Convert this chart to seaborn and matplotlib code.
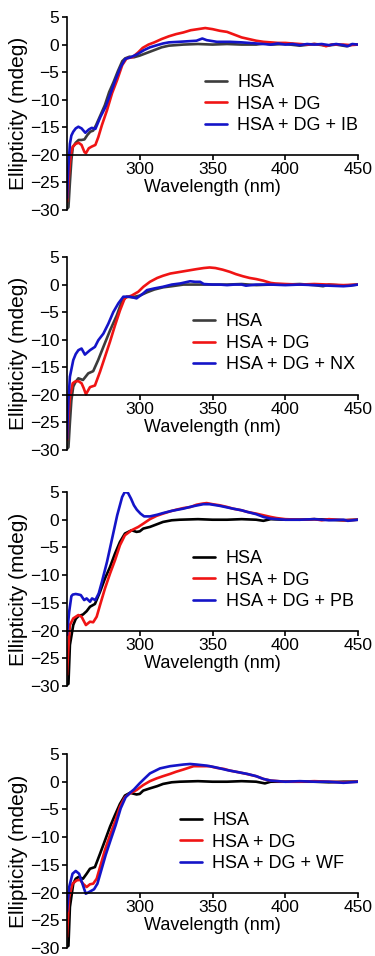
import matplotlib
matplotlib.use("Agg")
import matplotlib.pyplot as plt
import pandas as pd
import seaborn as sns

sns.set_style("ticks")
plt.rcParams['font.family'] = ['Liberation Sans', 'DejaVu Sans']
plt.rcParams['text.color'] = 'black'
plt.rcParams['axes.labelcolor'] = 'black'
plt.rcParams['xtick.color'] = 'black'
plt.rcParams['ytick.color'] = 'black'

# ---------------- Panel 1 (IB) ----------------
wl_hsa_1 = [250, 251, 252, 253, 254, 256, 258, 260, 262, 264, 266, 268, 270, 273, 276, 279, 282, 285, 288, 290, 293, 296, 300, 305, 310, 315, 320, 325, 330, 340, 350, 360, 370, 380, 386, 390, 400, 410, 420, 428, 435, 442, 446, 450]
hsa_1 = [-29.8, -29.5, -25, -21, -18.6, -17.8, -17.3, -17.3, -17.2, -16.4, -15.8, -15.6, -14.6, -12.8, -11.0, -8.6, -6.8, -4.8, -3.0, -2.5, -2.2, -2.3, -2.0, -1.5, -1.0, -0.5, -0.2, -0.1, 0.0, 0.1, 0.0, 0.1, 0.0, 0.0, 0.2, 0.0, 0.1, -0.2, 0.1, -0.2, 0.0, -0.3, 0.0, 0.0]
wl_dg_1 = [250, 251, 252, 253, 254, 256, 258, 260, 262, 263, 265, 267, 269.5, 271.5, 274, 277.5, 281, 284.5, 288, 291, 295, 299, 302, 306, 310, 315, 320, 325, 330, 335, 340, 345, 350, 355, 360, 365, 370, 375, 380, 385, 390, 395, 400, 405, 410, 415, 420, 425, 428, 432, 440, 445, 450]
dg_1 = [-28.5, -25, -21.5, -19.5, -18.5, -18.0, -17.8, -18.2, -19.5, -19.7, -18.8, -18.5, -18.2, -16.8, -14.6, -11.9, -8.8, -6.4, -3.7, -2.5, -2.3, -1.4, -0.6, 0.0, 0.4, 1.0, 1.5, 1.9, 2.2, 2.6, 2.8, 3.0, 2.8, 2.5, 2.3, 1.8, 1.3, 1.0, 0.7, 0.5, 0.4, 0.3, 0.3, 0.2, 0.1, 0.0, 0.1, 0.0, -0.3, 0.0, 0.0, -0.1, 0.0]
wl_x_1 = [250, 251, 252, 253, 254.3, 256, 257.8, 260, 262.6, 265, 267, 269.5, 273, 276.5, 280, 283.3, 286.8, 290, 293.7, 298, 303, 307, 312, 316, 320, 327, 333, 339, 343, 346, 353, 362, 370, 375, 385, 390, 395, 400, 405, 410, 415, 420, 425, 430, 435, 440, 443, 446, 450]
x_1 = [-27.8, -22, -18.0, -16.5, -15.8, -15.2, -14.9, -15.2, -16.0, -15.4, -15.1, -15.3, -13.1, -11.3, -8.8, -6.4, -4.1, -2.6, -2.3, -1.8, -1.0, -0.5, -0.1, 0.2, 0.4, 0.5, 0.6, 0.7, 1.1, 0.8, 0.5, 0.5, 0.4, 0.3, 0.1, 0.0, 0.2, 0.0, 0.1, -0.1, 0.1, 0.0, 0.1, -0.1, 0.1, -0.1, -0.3, 0.1, 0.0]

# ---------------- Panel 2 (NX) ----------------
wl_hsa_2 = [250, 251, 252, 253, 254.3, 256, 257.8, 261, 264.6, 268, 271.4, 275, 279.6, 284.2, 287.6, 291, 295, 300, 305, 310, 316, 322, 330, 340, 350, 360, 370, 380, 390, 400, 410, 420, 426, 430, 440, 450]
hsa_2 = [-29.8, -29.5, -25, -21, -18.5, -17.6, -17.0, -17.3, -16.1, -15.7, -13.7, -11.3, -8.3, -5.6, -3.1, -2.2, -2.3, -2.0, -1.4, -0.9, -0.5, -0.3, 0.0, 0.0, 0.0, 0.0, 0.1, -0.1, 0.0, 0.0, 0.1, -0.1, -0.3, 0.0, -0.2, 0.0]
wl_dg_2 = [250, 251, 252, 253.9, 255.5, 257.8, 260, 261.5, 263, 265.8, 269.2, 272.7, 276.1, 279.5, 283, 286.4, 289.8, 294.4, 299, 302.5, 307, 312, 316, 321, 330, 339, 344, 348, 352, 357, 362, 366, 371, 375.5, 380, 385, 390, 393, 400, 410, 420, 430, 440, 450]
dg_2 = [-28.2, -24, -20.5, -17.9, -17.6, -17.5, -17.9, -18.8, -19.9, -18.6, -18.3, -15.8, -13.1, -10.4, -7.4, -4.7, -2.4, -2.0, -1.3, -0.4, 0.5, 1.2, 1.6, 2.0, 2.4, 2.8, 3.0, 3.1, 3.0, 2.7, 2.3, 1.9, 1.5, 1.2, 1.0, 0.7, 0.3, 0.2, 0.1, 0.0, 0.1, 0.0, -0.1, 0.0]
wl_x_2 = [250, 251, 252, 254.3, 256, 257.8, 260, 262.3, 265.8, 269.2, 271.5, 275, 278.4, 281.8, 285.3, 288.7, 293.3, 297.8, 302.4, 305, 310, 316, 322, 327.8, 334.6, 338, 341.5, 344, 350, 355, 360, 365, 370, 373, 380, 390, 400, 410, 420, 430, 440, 445, 450]
x_2 = [-27.9, -21, -16.7, -13.7, -12.6, -11.9, -11.6, -12.7, -11.9, -11.3, -10.1, -8.9, -7.1, -5.0, -3.4, -2.2, -2.2, -2.5, -1.6, -1.0, -0.7, -0.4, 0.0, 0.2, 0.6, 0.5, 0.5, 0.1, 0.0, 0.0, -0.1, 0.0, 0.0, -0.2, 0.0, 0.0, -0.1, 0.0, -0.1, -0.2, -0.3, -0.2, 0.0]

# ---------------- Panel 3 (PB) ----------------
wl_hsa_3 = [250, 251, 252, 254.3, 256, 257.8, 261, 263.5, 265.8, 269.2, 272.7, 276.1, 279.6, 283, 286.4, 289.8, 294.4, 297.8, 300, 302.4, 307, 312, 316, 322, 327.5, 340, 350, 360, 370, 380, 385, 390, 400, 410, 420, 430, 440, 450]
hsa_3 = [-29.8, -29.6, -22.6, -19.0, -17.9, -17.4, -17.1, -16.5, -15.7, -15.2, -13.0, -10.6, -8.5, -6.1, -4.0, -2.5, -1.9, -2.2, -2.1, -1.6, -1.3, -0.8, -0.4, -0.1, 0.0, 0.1, 0.0, 0.0, 0.1, 0.0, -0.2, 0.1, 0.0, 0.0, 0.1, 0.0, -0.1, 0.0]
wl_dg_3 = [250, 251, 252, 254.3, 257.8, 260, 263, 265.8, 268, 270.4, 272.7, 276.1, 279.6, 283, 286.4, 289.8, 294.4, 299, 302.5, 307, 311.6, 316, 320.8, 325, 330, 335, 339, 343, 346, 350, 355, 360, 364, 370, 374, 380, 385, 390, 394, 400, 410, 420, 425, 430, 440, 450]
dg_3 = [-28.0, -23, -19.0, -17.8, -17.2, -17.5, -19.0, -18.4, -18.5, -17.5, -15.4, -12.4, -9.7, -7.3, -4.6, -2.8, -1.9, -1.3, -0.7, 0.1, 0.7, 1.1, 1.5, 1.8, 2.1, 2.3, 2.7, 2.9, 3.0, 2.8, 2.6, 2.3, 2.0, 1.7, 1.4, 1.1, 0.8, 0.5, 0.3, 0.1, 0.0, 0.1, -0.1, 0.1, -0.1, 0.0]
wl_x_3 = [250, 251.5, 253, 254, 256, 258, 259.5, 261.8, 263.5, 265.8, 267.2, 269.5, 271.8, 274, 277.5, 281, 284.5, 287.9, 289.5, 290.6, 292, 294, 296, 298, 300.5, 303, 307, 312, 316, 322, 330, 336, 343.7, 348, 355, 364, 370, 374, 380, 385, 390, 395, 400, 410, 420, 430, 440, 443, 450]
x_3 = [-20.8, -16.6, -13.8, -13.5, -13.4, -13.5, -13.6, -14.5, -14.2, -14.8, -14.2, -14.5, -13.3, -11.2, -7.6, -3.4, 0.8, 4.1, 4.9, 5.0, 4.8, 3.8, 2.6, 1.8, 1.1, 0.6, 0.6, 0.9, 1.2, 1.6, 2.0, 2.4, 2.8, 2.8, 2.5, 2.0, 1.7, 1.4, 1.0, 0.5, 0.2, 0.1, 0.0, 0.0, 0.1, -0.1, 0.0, -0.2, 0.0]

# ---------------- Panel 4 (WF) ----------------
wl_hsa_4 = [250, 251, 252, 254.3, 256, 257.8, 261, 263.5, 265.8, 269.2, 272.7, 276.1, 279.6, 283, 286.4, 289.8, 293.3, 297.8, 300, 302.4, 307, 312, 316, 322, 327.5, 340, 350, 360, 370, 380, 386, 390, 400, 410, 420, 430, 440, 450]
hsa_4 = [-29.8, -29.6, -22.6, -18.4, -17.5, -17.2, -17.5, -16.6, -15.7, -15.4, -13.0, -10.6, -8.1, -6.0, -4.0, -2.5, -2.0, -2.3, -2.2, -1.6, -1.2, -0.8, -0.4, -0.1, 0.0, 0.1, 0.0, 0.0, 0.1, 0.0, -0.3, 0.0, 0.0, 0.0, 0.0, -0.1, 0.0, 0.0]
wl_dg_4 = [250, 251.5, 253.8, 256.6, 259, 261, 263.5, 265.8, 268, 270.4, 272.7, 276.1, 279.6, 283, 286.4, 289.8, 293.3, 297.8, 302.4, 307, 311.6, 316, 320.8, 325, 330, 337, 343.7, 348, 352.8, 358, 362, 368, 373.5, 380, 385, 390, 395, 400, 410, 420, 430, 440, 450]
dg_4 = [-28.0, -20.8, -18.4, -17.8, -17.7, -18.4, -19.0, -18.5, -18.4, -17.5, -15.4, -12.3, -9.6, -7.2, -4.5, -2.8, -2.1, -1.5, -0.6, 0.1, 0.6, 1.0, 1.4, 1.8, 2.2, 2.8, 2.8, 2.8, 2.5, 2.3, 2.0, 1.7, 1.4, 1.0, 0.5, 0.2, 0.1, 0.0, 0.0, 0.1, 0.0, -0.1, 0.0]
wl_x_4 = [250, 251.5, 253.8, 256, 258.3, 260.6, 262.9, 265.2, 268.6, 270.9, 273.2, 276.6, 280, 283.5, 286.9, 290.3, 293.7, 296, 299.9, 303, 307, 313.9, 320.8, 330, 334.6, 339, 346, 352, 360, 368, 374, 380, 385, 390, 395, 400, 410, 420, 430, 440, 445, 450]
x_4 = [-23.4, -19.0, -16.6, -16.1, -16.6, -18.4, -20.2, -19.9, -19.4, -18.4, -16.3, -13.2, -10.5, -7.8, -4.8, -2.8, -1.9, -1.4, -0.3, 0.5, 1.5, 2.4, 2.8, 3.1, 3.2, 3.1, 2.9, 2.6, 2.1, 1.7, 1.4, 1.0, 0.5, 0.2, 0.1, 0.0, 0.1, 0.0, 0.0, -0.2, -0.1, 0.0]

labels_1 = ["HSA", "HSA + DG", "HSA + DG + IB"]
labels_2 = ["HSA", "HSA + DG", "HSA + DG + NX"]
labels_3 = ["HSA", "HSA + DG", "HSA + DG + PB"]
labels_4 = ["HSA", "HSA + DG", "HSA + DG + WF"]

y_ticks = [-30, -25, -20, -15, -10, -5, 0, 5]
x_ticks = [300, 350, 400, 450]

panels = [
    (wl_hsa_1, hsa_1, wl_dg_1, dg_1, wl_x_1, x_1, labels_1, "#3c3c3c", (17, 210), (0.474, 0.548)),
    (wl_hsa_2, hsa_2, wl_dg_2, dg_2, wl_x_2, x_2, labels_2, "#3c3c3c", (257, 450), (0.433, 0.552)),
    (wl_hsa_3, hsa_3, wl_dg_3, dg_3, wl_x_3, x_3, labels_3, "#000000", (492, 686), (0.433, 0.546)),
    (wl_hsa_4, hsa_4, wl_dg_4, dg_4, wl_x_4, x_4, labels_4, "#000000", (754, 948), (0.388, 0.546)),
]

W, H = 375, 956
fig = plt.figure(figsize=(W / 100, H / 100), dpi=100)

for (wa, ya, wb, yb, wc, yc, labs, c0, (top, bot), (lx, ly)) in panels:
    ax = fig.add_axes([67 / W, 1 - bot / H, 291 / W, (bot - top) / H])
    df = pd.concat([
        pd.DataFrame({"wl": wa, "ell": ya, "sample": labs[0]}),
        pd.DataFrame({"wl": wb, "ell": yb, "sample": labs[1]}),
        pd.DataFrame({"wl": wc, "ell": yc, "sample": labs[2]}),
    ], ignore_index=True)
    pal = {labs[0]: c0, labs[1]: "#f01414", labs[2]: "#1414c8"}
    sns.lineplot(data=df, x="wl", y="ell", hue="sample", hue_order=labs,
                 palette=pal, ax=ax, linewidth=1.9, legend=False,
                 sort=False, estimator=None)
    ax.set_xlim(250, 450)
    ax.set_ylim(-30, 5)
    ax.spines["top"].set_visible(False)
    ax.spines["right"].set_visible(False)
    ax.spines["bottom"].set_position(("data", -20))
    for s in ("left", "bottom"):
        ax.spines[s].set_linewidth(1.2)
        ax.spines[s].set_color("black")
    ax.set_xticks(x_ticks)
    ax.set_yticks(y_ticks)
    ax.tick_params(axis="both", direction="out", length=3.5, width=1.2,
                   labelsize=12.5, pad=2, colors="black")
    ax.set_xlabel("Wavelength (nm)", fontsize=13, labelpad=1)
    ax.set_ylabel("Ellipticity (mdeg)", fontsize=15, labelpad=1)
    lines = ax.get_lines()[:3]
    ax.legend(lines, labs, loc="center left", bbox_to_anchor=(lx, ly),
              frameon=False, borderpad=0, borderaxespad=0, handlelength=1.2,
              handletextpad=0.6, labelspacing=0.25, fontsize=13)

fig.savefig("out.png", dpi=100)
